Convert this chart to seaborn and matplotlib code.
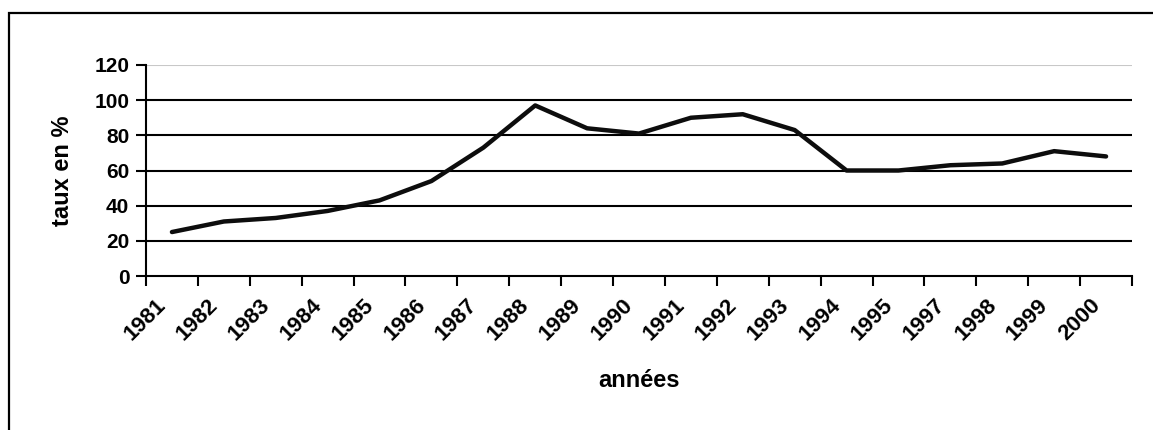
import matplotlib
matplotlib.use("Agg")
import matplotlib.pyplot as plt
import matplotlib.transforms as mtransforms
import seaborn as sns
import pandas as pd
from matplotlib.patches import Rectangle
from matplotlib.ticker import FixedLocator

sns.set_style("white")
plt.rcParams['font.family'] = ['Liberation Sans', 'DejaVu Sans']
plt.rcParams['text.color'] = 'black'
plt.rcParams['axes.labelcolor'] = 'black'
plt.rcParams['xtick.color'] = 'black'
plt.rcParams['ytick.color'] = 'black'

# data (1996 is missing in the source)
years = ['1981', '1982', '1983', '1984', '1985', '1986', '1987', '1988', '1989', '1990',
         '1991', '1992', '1993', '1994', '1995', '1997', '1998', '1999', '2000']
taux = [25, 31, 33, 37, 43, 54, 73, 97, 84, 81,
        90, 92, 83, 60, 60, 63, 64, 71, 68]
y_ticks = [0, 20, 40, 60, 80, 100, 120]

df = pd.DataFrame({'annee': years, 'taux': taux})

fig = plt.figure(figsize=(11.53, 4.30), dpi=100)
ax = fig.add_axes([146 / 1153, 1 - 276 / 430, (1132 - 146) / 1153, (276 - 65) / 430])

# gridlines
for v in y_ticks[1:-1]:
    ax.axhline(v, color='black', lw=1.5, zorder=1)
ax.axhline(120, color='#c8c8c8', lw=1.5, zorder=1)

sns.lineplot(data=df, x='annee', y='taux', sort=False, color='#0d0d0d',
             lw=3.2, ax=ax, zorder=3)

n = len(years)
ax.set_xlim(-0.5, n - 0.5)
ax.set_ylim(0, 120)

# ticks on category boundaries, labels centred on categories
ax.xaxis.set_major_locator(FixedLocator([i - 0.5 for i in range(n + 1)]))
ax.xaxis.set_minor_locator(FixedLocator(list(range(n))))
ax.set_xticklabels([], minor=False)
ax.set_xticklabels(years, minor=True, rotation=45, ha='right', va='center',
                   rotation_mode='anchor', fontsize=16, fontweight='bold')
ax.tick_params(axis='x', which='major', direction='out', length=7, width=1.5,
               color='black', bottom=True)
ax.tick_params(axis='x', which='minor', length=0, pad=19)
shift = mtransforms.ScaledTranslation(-9 / 100, 0, fig.dpi_scale_trans)
for lab in ax.get_xticklabels(minor=True):
    lab.set_transform(lab.get_transform() + shift)

ax.set_yticks(y_ticks)
ax.set_yticklabels([str(v) for v in y_ticks], fontsize=15, fontweight='bold')
ax.tick_params(axis='y', direction='out', length=7, width=1.5, color='black',
               left=True, pad=5)

for side in ['top', 'right']:
    ax.spines[side].set_visible(False)
for side in ['left', 'bottom']:
    ax.spines[side].set_color('black')
    ax.spines[side].set_linewidth(1.5)

ax.set_xlabel('années', fontsize=17, fontweight='bold')
ax.set_ylabel('taux en %', fontsize=17, fontweight='bold')
ax.xaxis.set_label_coords(0.5, -(381 - 276) / (276 - 65))
ax.yaxis.set_label_coords(-(146 - 62) / (1132 - 146), 0.5)
ax.xaxis.label.set_va('center')
ax.yaxis.label.set_va('center')

# outer chart frame (clipped at right and bottom like the source)
fig.patches.append(Rectangle((8.5 / 1153, -0.1), 1.2, 1.1 - 12.5 / 430,
                             transform=fig.transFigure, fill=False,
                             edgecolor='black', lw=1.6))

fig.savefig('out.png', dpi=100, facecolor='white')
